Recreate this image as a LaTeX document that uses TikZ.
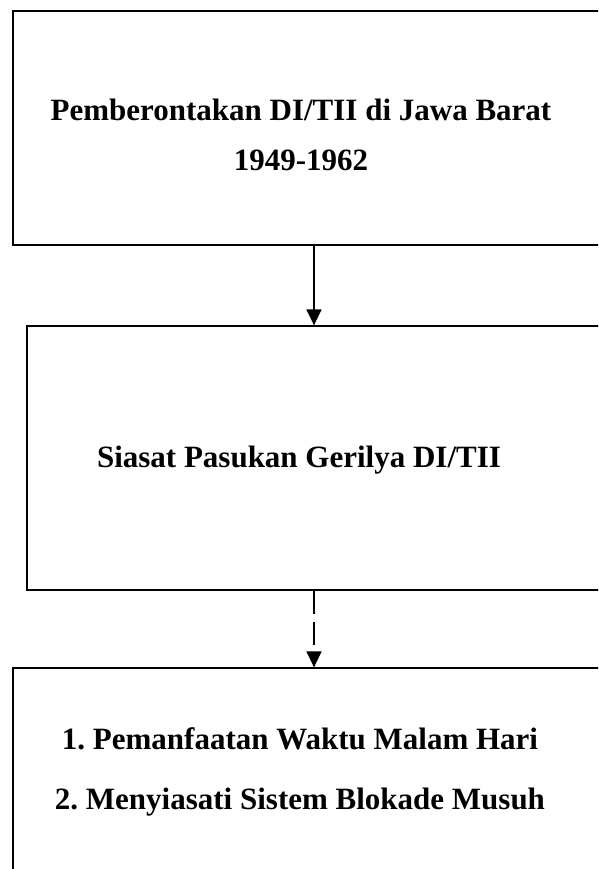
\documentclass[tikz,border=0pt]{standalone}
\usepackage{fontspec}
\setmainfont{Liberation Serif}
\usetikzlibrary{arrows.meta, positioning}

\begin{document}
\frenchspacing
\begin{tikzpicture}[
	x=1pt, y=-1pt,
	Kotak/.style={rectangle, draw, line width=1.3pt, minimum width=602pt},
	Teks/.style={font=\fontsize{31}{50}\selectfont\bfseries, align=center},
	Panah/.style={line width=1.5pt, -{Triangle[width=15pt, length=16pt]}}
	]

\useasboundingbox (0,0) rectangle (598,869);
\clip (0,0) rectangle (598,869);

\node [Kotak, minimum height=234pt] (awal) at (314,128) {};
\node [Kotak, minimum width=574pt, minimum height=264pt] (siasat) at (314,458) {};
\node [Kotak, minimum height=300pt] (hasil) at (314,818) {};

\node [Teks] (tawal) at (301,135) {Pemberontakan DI/TII di Jawa Barat\\1949-1962};
\node [Teks] (tsiasat) at (299,460) {Siasat Pasukan Gerilya DI/TII};
\node [Teks] (thasil) at (300,772) {1. Pemanfaatan Waktu Malam Hari\\[10pt]2. Menyiasati Sistem Blokade Musuh};

\draw [Panah] (awal.south -| 314,0) -- (siasat.north -| 314,0);
\draw [Panah, dash pattern=on 23pt off 8pt] (siasat.south -| 314,0) -- (hasil.north -| 314,0);

\end{tikzpicture}
\end{document}
